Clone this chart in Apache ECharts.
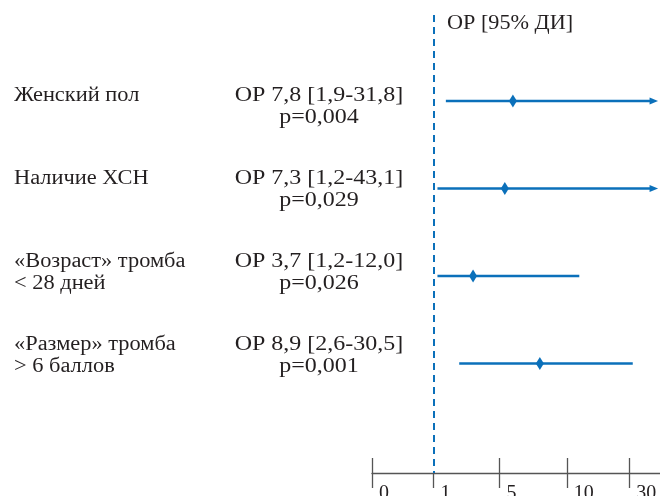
<!DOCTYPE html>
<html><head><meta charset="utf-8">
<script src="https://cdn.jsdelivr.net/npm/echarts@6/dist/echarts.min.js"></script>
<style>html,body{margin:0;padding:0;background:#fff}#c{width:660px;height:496px}</style>
</head><body><div id="c"></div>
<script>
// ---- data ----
const factorLabels = ['Женский пол', 'Наличие ХСН', '«Возраст» тромба\n< 28 дней', '«Размер» тромба\n> 6 баллов'];
const orLabels = ['ОР 7,8 [1,9-31,8]', 'ОР 7,3 [1,2-43,1]', 'ОР 3,7 [1,2-12,0]', 'ОР 8,9 [2,6-30,5]'];
const pLabels = ['p=0,004', 'p=0,029', 'p=0,026', 'p=0,001'];
// point estimates and interval ends as they sit on the drawn axis
const estRead = [6.0, 5.4, 3.4, 8.0];
const lowRead = [1.75, 1.24, 1.24, 2.56];
const highRead = [39.2, 39.2, 14.0, 31.1];
const arrowHead = [true, true, false, false];
const tickValues = [0, 1, 5, 10, 30];
const tickLabels = ['0', '1', '5', '10', '30'];
const refValue = 1;
const headerText = 'ОР [95% ДИ]';

// ---- scale: the axis is drawn piecewise (ticks nearly evenly spaced) ----
const KNOT_U = [0, 0.956, 1.981, 3.028, 4];
const AXIS_MAX = 4.477;
function toU(v) {
  const n = tickValues.length;
  if (v <= tickValues[0]) return KNOT_U[0];
  for (let i = 0; i < n - 1; i++) {
    if (v <= tickValues[i + 1]) {
      const t = (v - tickValues[i]) / (tickValues[i + 1] - tickValues[i]);
      return KNOT_U[i] + t * (KNOT_U[i + 1] - KNOT_U[i]);
    }
  }
  const slope = (KNOT_U[n - 1] - KNOT_U[n - 2]) / (tickValues[n - 1] - tickValues[n - 2]);
  return KNOT_U[n - 1] + (v - tickValues[n - 1]) * slope;
}
const tickU = tickValues.map(toU);

const BLUE = '#0b70ba';
const INK = '#231f20';
const AXIS_GREY = '#555555';
const FONT = '"Liberation Serif", "Times New Roman", serif';
const SX_LEFT = 1.12, SX_MID = 1.2;
const LEFT_X = 14, MID_X = 319;

const rowData = factorLabels.map((_, i) => [i, toU(lowRead[i]), toU(estRead[i]), toU(highRead[i]), arrowHead[i] ? 1 : 0]);
const textData = factorLabels.map((_, i) => [0, i]);

const chart = echarts.init(document.getElementById('c'), null, { renderer: 'canvas' });
chart.setOption({
  animation: false,
  backgroundColor: '#ffffff',
  grid: { left: 372, right: 0, top: 15, bottom: 23, containLabel: false, outerBoundsMode: 'none' },
  xAxis: [
    {
      type: 'value', min: 0, max: AXIS_MAX, position: 'bottom',
      axisLine: { show: true, onZero: false, lineStyle: { color: AXIS_GREY, width: 1.3 } },
      axisTick: { show: true, inside: false, length: 15, customValues: tickU, lineStyle: { color: AXIS_GREY, width: 1.3 } },
      axisLabel: {
        show: true, customValues: tickU, align: 'left', verticalAlign: 'top', margin: 11,
        padding: [0, 0, 0, 7],
        color: INK, fontFamily: FONT, fontSize: 20,
        formatter: function (val) {
          const i = tickU.findIndex(u => Math.abs(u - val) < 1e-6);
          return i >= 0 ? tickLabels[i] : '';
        }
      },
      splitLine: { show: false }
    },
    {
      type: 'value', min: 0, max: AXIS_MAX, position: 'bottom',
      axisLine: { show: false, onZero: false },
      axisTick: { show: true, inside: true, length: 15, customValues: tickU.filter((u, i) => tickValues[i] !== refValue), lineStyle: { color: AXIS_GREY, width: 1.3 } },
      axisLabel: { show: false },
      splitLine: { show: false }
    }
  ],
  yAxis: [
    { type: 'value', inverse: true, min: -0.98286, max: 4.25143, show: false },
    { type: 'value', inverse: true, min: -0.9758, max: 4.5436, show: false }
  ],
  graphic: [
    { type: 'text', x: 447, y: 24, scaleX: 1.11, style: { text: headerText, fill: INK, font: '20px ' + FONT, align: 'left', verticalAlign: 'middle' } }
  ],
  series: [
    {
      type: 'custom', xAxisIndex: 0, yAxisIndex: 0,
      encode: { x: [1, 2, 3], y: 0 },
      data: rowData,
      renderItem: function (params, api) {
        const row = api.value(0);
        const lo = api.coord([api.value(1), row]);
        const est = api.coord([api.value(2), row]);
        const hi = api.coord([api.value(3), row]);
        const y = lo[1];
        const hasArrow = api.value(4) === 1;
        const children = [
          { type: 'line', shape: { x1: lo[0], y1: y, x2: hi[0] - (hasArrow ? 6 : 0), y2: y }, style: { stroke: BLUE, lineWidth: 2.4 } },
          { type: 'polygon', shape: { points: [[est[0], y - 6.5], [est[0] + 4, y], [est[0], y + 6.5], [est[0] - 4, y]] }, style: { fill: BLUE } }
        ];
        if (hasArrow) {
          children.push({ type: 'polygon', shape: { points: [[hi[0], y], [hi[0] - 8.5, y - 3.6], [hi[0] - 8.5, y + 3.6]] }, style: { fill: BLUE } });
        }
        return { type: 'group', children: children };
      },
      markLine: {
        silent: true, symbol: ['none', 'none'], label: { show: false },
        lineStyle: { color: BLUE, width: 2, type: [7, 5] },
        data: [{ xAxis: toU(refValue) }]
      },
      z: 3
    },
    {
      type: 'custom', xAxisIndex: 0, yAxisIndex: 1,
      encode: { x: 0, y: 1 },
      data: textData,
      renderItem: function (params, api) {
        const i = params.dataIndex;
        const y = api.coord([0, api.value(1)])[1] - 11;
        const base = { fill: INK, font: '20px ' + FONT, lineHeight: 22, verticalAlign: 'top' };
        return {
          type: 'group', children: [
            { type: 'text', x: LEFT_X, y: y, scaleX: SX_LEFT, style: Object.assign({ text: factorLabels[i], align: 'left' }, base) },
            { type: 'text', x: MID_X, y: y, scaleX: SX_MID, style: Object.assign({ text: orLabels[i] + '\n' + pLabels[i], align: 'center' }, base) }
          ]
        };
      },
      z: 2
    }
  ]
});
</script></body></html>
